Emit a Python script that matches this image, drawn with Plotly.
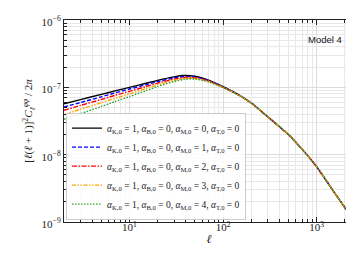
import plotly.graph_objects as go

ell = [2, 3, 5, 7, 10, 15, 20, 30, 38, 50, 70, 100, 150, 200, 300, 400, 500, 700, 1000, 1500, 2000, 2500]

tail_e8 = [5.85, 3.65, 2.6, 1.98, 1.2, 0.66, 0.29, 0.163, 0.103]
black_e8 = [5.7, 6.57, 7.85, 8.84, 10.0, 11.48, 12.7, 14.3, 14.95, 14.6, 12.8, 10.2, 7.6] + tail_e8
blue_e8 = [5.10, 5.95, 7.22, 8.27, 9.44, 10.93, 12.17, 13.77, 14.46, 14.24, 12.61, 10.13, 7.58] + tail_e8
red_e8 = [4.56, 5.39, 6.59, 7.60, 8.73, 10.27, 11.56, 13.23, 13.98, 13.87, 12.42, 10.05, 7.56] + tail_e8
orange_e8 = [3.93, 4.73, 5.89, 6.85, 7.96, 9.59, 10.92, 12.73, 13.53, 13.58, 12.22, 9.97, 7.54] + tail_e8
green_e8 = [3.36, 4.07, 5.18, 6.14, 7.29, 8.90, 10.29, 12.23, 13.08, 13.29, 12.03, 9.89, 7.52] + tail_e8

alpha_M = [0, 1, 2, 3, 4]
series_values = [black_e8, blue_e8, red_e8, orange_e8, green_e8]
colors = ["#000000", "#0000ff", "#ff0000", "#ffa500", "#2ca02c"]
dashes = ["solid", "4px,2px", "5px,1.5px,1.5px,1.5px", "4px,1.5px,1.5px,1.5px,1.5px,1.5px", "1.5px,1.5px"]

x_major = [10, 100, 1000]
x_major_text = ["10<sup>1</sup>", "10<sup>2</sup>", "10<sup>3</sup>"]
y_major = [1e-9, 1e-8, 1e-7, 1e-6]
y_major_text = ["10<sup>−9</sup>", "10<sup>−8</sup>", "10<sup>−7</sup>", "10<sup>−6</sup>"]

x_minor = [m * 10 ** d for d in range(0, 4) for m in range(2, 10) if 2 <= m * 10 ** d <= 2500]
y_minor = [m * 10.0 ** d for d in range(-9, -6) for m in range(2, 10)]

serif = "Liberation Serif"

fig = go.Figure()
for am, vals, c, dsh in zip(alpha_M, series_values, colors, dashes):
    name = ("<i>α</i><sub>K,0</sub> = 1, <i>α</i><sub>B,0</sub> = 0, "
            f"<i>α</i><sub>M,0</sub> = {am}, <i>α</i><sub>T,0</sub> = 0")
    fig.add_trace(go.Scatter(
        x=ell, y=[v * 1e-8 for v in vals], mode="lines", name=name,
        line=dict(color=c, width=1.4, dash=dsh, shape="spline", smoothing=0.6),
    ))

axis_common = dict(
    type="log", showline=True, linecolor="#222", linewidth=1, mirror="allticks",
    ticks="inside", ticklen=5, tickcolor="#222", tickwidth=0.8,
    showgrid=True, gridcolor="#dcdcdc", gridwidth=0.8, zeroline=False,
    tickfont=dict(family=serif, size=11, color="#222"), automargin=False,
)

fig.update_xaxes(
    **axis_common,
    range=[0.30103, 3.39794],
    tickmode="array", tickvals=x_major, ticktext=x_major_text,
    ticklabelstandoff=-5,
    minor=dict(tickmode="array", tickvals=x_minor, ticks="inside", ticklen=3,
               tickcolor="#222", showgrid=True, gridcolor="#e8e8e8", gridwidth=0.7),
    title=dict(text="<i>ℓ</i>", font=dict(family=serif, size=12, color="#222"), standoff=2),
)
fig.update_yaxes(
    **axis_common,
    range=[-9, -6],
    tickmode="array", tickvals=y_major, ticktext=y_major_text,
    ticklabelshift=2,
    minor=dict(tickmode="array", tickvals=y_minor, ticks="inside", ticklen=3,
               tickcolor="#222", showgrid=True, gridcolor="#e8e8e8", gridwidth=0.7),
    title=dict(text="[<i>ℓ</i>(<i>ℓ</i> + 1)]<sup>2</sup><i>C</i><sub><i>ℓ</i></sub><sup><i>φφ</i></sup> / 2<i>π</i>",
               font=dict(family=serif, size=11, color="#222"), standoff=6),
)

fig.add_annotation(
    text="Model 4", xref="paper", yref="paper", x=0.965, y=0.905,
    xanchor="right", yanchor="middle", showarrow=False,
    font=dict(family="Liberation Sans", size=9.5, color="#111"),
)

fig.update_layout(
    width=354, height=253,
    margin=dict(l=56, r=8, t=12, b=39),
    paper_bgcolor="white", plot_bgcolor="white",
    showlegend=True,
    legend=dict(
        x=0.007, y=0.012, xanchor="left", yanchor="bottom",
        bgcolor="rgba(255,255,255,0.85)", bordercolor="#cccccc", borderwidth=1,
        font=dict(family=serif, size=9.5, color="#222"),
        itemwidth=30, tracegroupgap=0,
    ),
)

fig.write_html("out.html")
